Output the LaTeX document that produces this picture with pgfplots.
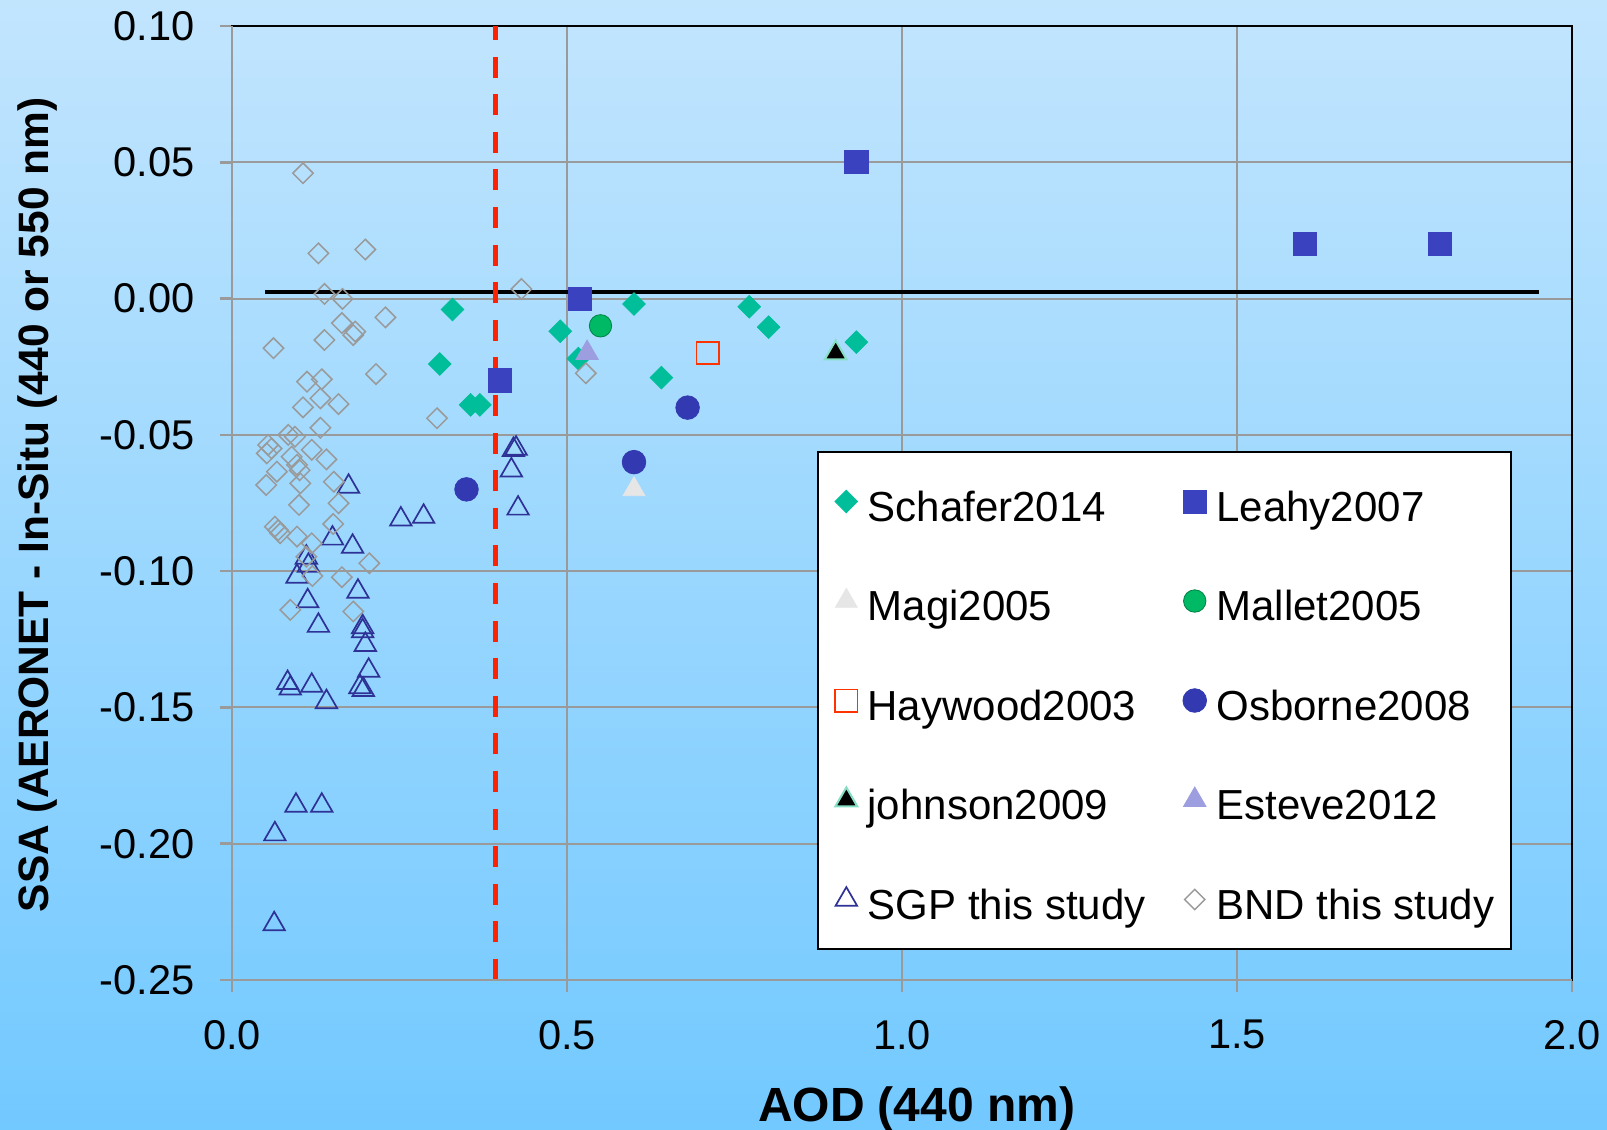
\documentclass[border=0pt]{standalone}
\usepackage{fontspec}
\setmainfont{Liberation Sans}
\usepackage{pgfplots}
\pgfplotsset{compat=1.18}

\definecolor{bgtop}{HTML}{C2E5FE}
\definecolor{bgbot}{HTML}{72C9FF}
\definecolor{gridgray}{HTML}{9A9A9A}
\definecolor{schafer}{HTML}{00BE9A}
\definecolor{leahy}{HTML}{3B42BF}
\definecolor{magi}{HTML}{E6E6E6}
\definecolor{mallet}{HTML}{00B964}
\definecolor{haywood}{HTML}{FF3300}
\definecolor{osborne}{HTML}{3339B1}
\definecolor{johnsonedge}{HTML}{86DFC4}
\definecolor{esteve}{HTML}{9C9EE0}
\definecolor{sgp}{HTML}{2E3296}
\definecolor{bnd}{HTML}{9A9A9A}
\definecolor{reddash}{HTML}{FF2200}

\begin{document}
\begin{tikzpicture}
\fill[top color=bgtop, bottom color=bgbot] (-116pt,-75pt) rectangle (687.5pt,490pt);
\begin{axis}[
    at={(0pt,0pt)}, anchor=south west,
    scale only axis, width=670pt, height=477pt,
    xmin=0, xmax=2, ymin=-0.25, ymax=0.10,
    xtick={0,0.5,1,1.5,2},
    ytick={-0.25,-0.2,-0.15,-0.1,-0.05,0,0.05,0.1},
    grid=major,
    grid style={color=gridgray, line width=1pt},
    axis line style={black, line width=1pt},
    tick style={color=gridgray, line width=1.3pt},
    major tick length=6pt, tick align=outside,
    xtick pos=bottom, ytick pos=left,
    xticklabel style={font=\fontsize{20.8}{24}\selectfont, anchor=north, inner sep=0pt, yshift=-13.8pt,
        /pgf/number format/.cd, fixed, fixed zerofill, precision=1, assume math mode=true},
    yticklabel style={font=\fontsize{20.8}{24}\selectfont, anchor=east, inner sep=0pt, xshift=-12.6pt,
        /pgf/number format/.cd, fixed, fixed zerofill, precision=2, assume math mode=true},
    xlabel={AOD (440 nm)},
    xlabel style={at={(axis description cs:0.511,-0.148)}, anchor=base,
        font=\fontsize{24}{28}\selectfont\bfseries},
    ylabel={SSA (AERONET - In-Situ (440 or 550 nm)},
    ylabel style={at={(axis description cs:-0.1366,0.498)}, anchor=base,
        font=\fontsize{21.25}{25}\selectfont\bfseries},
    legend columns=2,
    legend cell align=left,
    legend image code/.code={\draw[#1, only marks] plot coordinates {(0pt,0pt)};},
    legend style={at={(axis description cs:0.4366,0.5545)}, anchor=north west,
        fill=white, draw=black, line width=1pt,
        inner xsep=8.5pt, inner ysep=8pt,
        font=\fontsize{21}{25}\selectfont, row sep=16.25pt,
        nodes={inner sep=0pt, text height=26.5pt, text depth=7pt},
        /tikz/every odd column/.append style={column sep=5pt},
        /tikz/every even column/.append style={column sep=18.75pt}},
    extra description/.code={
        \draw[gridgray, line width=1.4pt] (rel axis cs:0,1) -- (rel axis cs:0,0) -- (rel axis cs:1,0);
    },
]
% Schafer2014
\addplot[only marks, color=schafer, mark=square*, mark size=4pt,
    mark options={rotate=45, fill=schafer, draw=schafer, line width=0.4pt}] coordinates {
    (0.329,-0.004) (0.310,-0.024) (0.356,-0.039) (0.370,-0.039) (0.490,-0.012)
    (0.517,-0.022) (0.600,-0.002) (0.641,-0.029) (0.772,-0.003) (0.801,-0.0105)
    (0.932,-0.016)};
\addlegendentry{Schafer2014}
% Leahy2007
\addplot[only marks, color=leahy, mark=square*, mark size=5.8pt,
    mark options={fill=leahy, draw=leahy, line width=0.4pt}] coordinates {
    (0.400,-0.030) (0.519,0.000) (0.932,0.050) (1.601,0.020) (1.803,0.020)};
\addlegendentry{Leahy2007}
% Magi2005
\addplot[only marks, color=magi, mark=triangle*, mark size=6.3pt,
    mark options={fill=magi, draw=magi, line width=0.4pt}] coordinates {
    (0.600,-0.070)};
\addlegendentry{Magi2005}
% Mallet2005
\addplot[only marks, color=mallet, mark=*, mark size=5.6pt,
    mark options={fill=mallet, draw=mallet!70!black, line width=0.4pt}] coordinates {
    (0.550,-0.010)};
\addlegendentry{Mallet2005}
% Haywood2003
\addplot[only marks, color=haywood, mark=square, mark size=5.6pt,
    mark options={draw=haywood, line width=0.8pt}] coordinates {
    (0.710,-0.020)};
\addlegendentry{Haywood2003}
% Osborne2008
\addplot[only marks, color=osborne, mark=*, mark size=5.9pt,
    mark options={fill=osborne, draw=osborne, line width=0.4pt}] coordinates {
    (0.350,-0.070) (0.600,-0.060) (0.680,-0.040)};
\addlegendentry{Osborne2008}
% johnson2009
\addplot[only marks, color=black, mark=triangle*, mark size=6.3pt,
    mark options={fill=black, draw=johnsonedge, line width=1pt}] coordinates {
    (0.901,-0.020)};
\addlegendentry{johnson2009}
% Esteve2012
\addplot[only marks, color=esteve, mark=triangle*, mark size=6.5pt,
    mark options={fill=esteve, draw=esteve, line width=0.4pt}] coordinates {
    (0.530,-0.020)};
\addlegendentry{Esteve2012}
% SGP this study
\addplot[only marks, color=sgp, mark=triangle, mark size=6.2pt,
    mark options={draw=sgp, line width=0.85pt}] coordinates {
    (0.174,-0.069) (0.252,-0.081) (0.286,-0.080) (0.420,-0.0555) (0.424,-0.055)
    (0.417,-0.063) (0.427,-0.077) (0.150,-0.088) (0.180,-0.091) (0.111,-0.095)
    (0.114,-0.098) (0.097,-0.102) (0.113,-0.111) (0.188,-0.1075) (0.129,-0.120)
    (0.195,-0.1205) (0.195,-0.122) (0.199,-0.127) (0.204,-0.1365) (0.191,-0.1425)
    (0.196,-0.1435) (0.083,-0.141) (0.087,-0.143) (0.119,-0.142) (0.141,-0.148)
    (0.0955,-0.186) (0.134,-0.186) (0.064,-0.1965) (0.063,-0.2295)};
\addlegendentry{SGP this study}
% BND this study
\addplot[only marks, color=bnd, mark=square, mark size=3.6pt,
    mark options={rotate=45, draw=bnd, line width=0.75pt}] coordinates {
    (0.106,0.046) (0.129,0.0166) (0.199,0.018) (0.138,0.0017) (0.165,-0.0001)
    (0.432,0.0035) (0.229,-0.0069) (0.164,-0.009) (0.184,-0.0121) (0.181,-0.0134)
    (0.138,-0.0152) (0.062,-0.0182) (0.215,-0.0277) (0.112,-0.0305) (0.134,-0.0296)
    (0.132,-0.0366) (0.106,-0.0399) (0.159,-0.0387) (0.306,-0.0439) (0.528,-0.0274)
    (0.132,-0.0474) (0.084,-0.050) (0.094,-0.0507) (0.054,-0.0537) (0.059,-0.055)
    (0.052,-0.0568) (0.119,-0.0555) (0.141,-0.059) (0.089,-0.058) (0.097,-0.061)
    (0.101,-0.063) (0.067,-0.0635) (0.051,-0.0684) (0.102,-0.0678) (0.152,-0.0672)
    (0.100,-0.0757) (0.159,-0.0751) (0.151,-0.0827) (0.064,-0.0837) (0.069,-0.085)
    (0.072,-0.0861) (0.097,-0.0873) (0.119,-0.0898) (0.111,-0.0947) (0.205,-0.0971)
    (0.120,-0.1018) (0.164,-0.1022) (0.087,-0.1142) (0.181,-0.1148)};
\addlegendentry{BND this study}
% reference lines
\addplot[black, line width=1.8pt, forget plot] coordinates {(0.05,0.0025) (1.95,0.0025)};
\addplot[reddash, line width=2.6pt, dash pattern=on 10.5pt off 8.3pt, forget plot]
    coordinates {(0.393,-0.25) (0.393,0.10)};
\end{axis}
\pgfresetboundingbox
\path[use as bounding box] (-116pt,-75pt) rectangle (687.5pt,490pt);
\end{tikzpicture}
\end{document}
